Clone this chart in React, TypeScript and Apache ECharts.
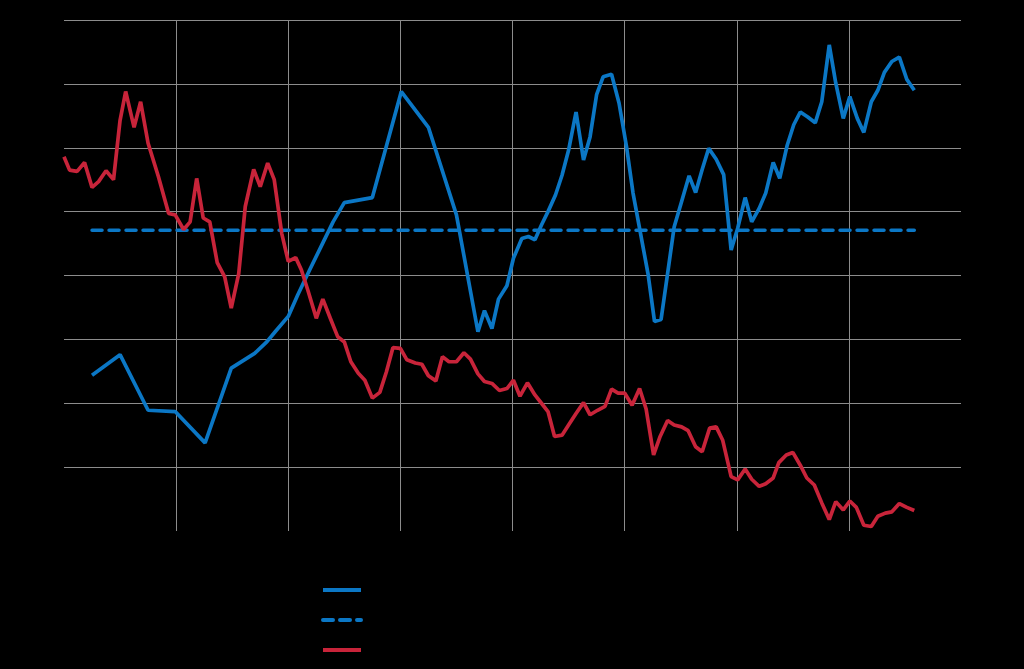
import React, { useEffect, useRef } from "react";
import * as echarts from "echarts";

// x: months from start of axis (axis spans 0..96, gridline every 12); y: value (0..80)
const redX = [0.0, 0.6, 1.4, 2.2, 3.0, 3.7, 4.5, 5.3, 6.0, 6.6, 7.5, 8.2, 9.0, 10.1, 11.2, 11.9, 12.8, 13.5, 14.2, 14.9, 15.6, 16.4, 17.2, 17.9, 18.7, 19.4, 20.3, 21.0, 21.8, 22.5, 23.3, 24.0, 24.8, 25.4, 26.1, 27.0, 27.7, 28.5, 29.3, 30.0, 30.7, 31.5, 32.2, 33.0, 33.8, 34.5, 35.2, 36.0, 36.7, 37.6, 38.3, 39.0, 39.8, 40.5, 41.2, 42.0, 42.8, 43.5, 44.3, 45.0, 45.8, 46.6, 47.4, 48.1, 48.8, 49.6, 50.4, 51.1, 51.8, 52.5, 53.3, 54.0, 54.8, 55.6, 56.3, 57.1, 57.9, 58.6, 59.3, 60.0, 60.8, 61.6, 62.3, 63.1, 63.8, 64.6, 65.3, 66.1, 66.8, 67.6, 68.3, 69.1, 69.8, 70.5, 71.4, 72.1, 72.9, 73.6, 74.4, 75.1, 75.9, 76.5, 77.3, 78.0, 78.8, 79.5, 80.3, 81.1, 81.9, 82.6, 83.4, 84.1, 84.8, 85.6, 86.4, 87.1, 87.9, 88.6, 89.4, 90.2, 91.0];
const redY = [58.6, 56.5, 56.3, 57.7, 53.8, 54.7, 56.4, 55.0, 64.3, 68.8, 63.2, 67.2, 60.7, 55.5, 49.7, 49.5, 47.2, 48.4, 55.2, 49.0, 48.4, 42.0, 39.8, 34.9, 40.3, 50.8, 56.6, 53.9, 57.6, 55.0, 46.6, 42.2, 42.8, 40.9, 37.7, 33.3, 36.3, 33.3, 30.4, 29.6, 26.5, 24.7, 23.6, 20.8, 21.7, 24.9, 28.7, 28.6, 26.8, 26.3, 26.1, 24.3, 23.5, 27.3, 26.5, 26.5, 27.9, 26.9, 24.6, 23.4, 23.1, 22.0, 22.3, 23.6, 21.1, 23.2, 21.3, 20.0, 18.7, 14.8, 15.0, 16.6, 18.4, 20.1, 18.2, 18.9, 19.5, 22.2, 21.6, 21.6, 19.7, 22.3, 19.1, 11.9, 14.8, 17.3, 16.6, 16.3, 15.7, 13.2, 12.4, 16.1, 16.3, 14.2, 8.5, 8.0, 9.7, 8.1, 7.0, 7.4, 8.3, 10.7, 11.9, 12.3, 10.3, 8.3, 7.2, 4.4, 1.8, 4.6, 3.3, 4.7, 3.7, 0.9, 0.7, 2.3, 2.8, 3.0, 4.3, 3.7, 3.2];

const blueX = [3.0, 6.0, 9.0, 11.9, 15.1, 17.9, 20.4, 21.7, 22.6, 24.0, 25.0, 26.3, 27.6, 28.8, 30.0, 33.0, 36.1, 39.0, 42.0, 44.3, 45.0, 45.8, 46.5, 47.4, 48.1, 49.0, 49.7, 50.4, 51.1, 51.8, 52.6, 53.3, 54.0, 54.8, 55.6, 56.3, 57.0, 57.7, 58.6, 59.4, 60.2, 60.9, 61.7, 62.5, 63.2, 63.9, 64.6, 65.3, 66.1, 66.9, 67.6, 68.3, 69.0, 69.8, 70.6, 71.4, 72.1, 72.9, 73.6, 74.4, 75.1, 75.9, 76.6, 77.4, 78.1, 78.8, 79.6, 80.4, 81.1, 81.9, 82.6, 83.4, 84.1, 84.9, 85.6, 86.4, 87.1, 87.8, 88.6, 89.4, 90.2, 91.0];
const blueY = [24.4, 27.6, 18.9, 18.7, 13.8, 25.5, 27.8, 29.6, 31.2, 33.6, 36.9, 40.9, 44.8, 48.4, 51.4, 52.2, 68.8, 63.2, 49.5, 31.2, 34.5, 31.7, 36.3, 38.4, 42.7, 45.8, 46.1, 45.6, 47.9, 50.0, 52.6, 55.7, 59.6, 65.6, 58.1, 61.7, 68.3, 71.1, 71.5, 67.0, 60.2, 52.9, 46.6, 40.3, 32.8, 33.1, 40.3, 47.6, 51.6, 55.6, 53.0, 56.6, 59.9, 58.2, 55.8, 44.0, 47.4, 52.2, 48.4, 50.5, 52.9, 57.7, 55.2, 60.4, 63.6, 65.6, 64.8, 63.9, 67.2, 76.1, 70.1, 64.6, 68.0, 64.6, 62.4, 67.2, 69.0, 71.8, 73.5, 74.2, 70.7, 69.0];

const avgX = [3.0, 91.0];
const avgValue = 47.1;

const seriesNames = ["Index", "Index average", "Rate"];

const BLUE = "#0b77c5";
const RED = "#c8243a";

export default function App() {
  const ref = useRef<HTMLDivElement>(null);
  useEffect(() => {
    if (!ref.current) return;
    const chart = echarts.init(ref.current, null, { renderer: "svg" });
    const pair = (xs: number[], ys: number[]) => xs.map((x, i) => [x, ys[i]]);
    chart.setOption({
      animation: false,
      backgroundColor: "#000000",
      grid: { left: 64, right: 63, top: 20, bottom: 138, containLabel: false },
      xAxis: {
        type: "value",
        min: 0,
        max: 96,
        interval: 12,
        axisLine: { show: false },
        axisTick: { show: false },
        axisLabel: { show: false },
        splitLine: { show: true, showMinLine: false, showMaxLine: false, lineStyle: { color: "#8c8c8c", width: 1 } },
      },
      yAxis: {
        type: "value",
        min: 0,
        max: 80,
        interval: 10,
        axisLine: { show: false },
        axisTick: { show: false },
        axisLabel: { show: false },
        splitLine: { show: true, showMinLine: false, lineStyle: { color: "#8c8c8c", width: 1 } },
      },
      legend: {
        orient: "vertical",
        left: 316,
        top: 576,
        itemWidth: 38,
        itemHeight: 18,
        itemGap: 12,
        itemStyle: { opacity: 0 },
        lineStyle: { width: 4 },
        textStyle: { color: "#000000", fontFamily: "Liberation Sans", fontSize: 14, lineHeight: 18 },
        data: seriesNames,
      },
      series: [
        {
          name: seriesNames[0],
          type: "line",
          data: pair(blueX, blueY),
          showSymbol: false,
          symbol: "none",
          lineStyle: { color: BLUE, width: 3.7 },
          itemStyle: { color: BLUE },
          z: 3,
        },
        {
          name: seriesNames[1],
          type: "line",
          data: avgX.map((x) => [x, avgValue]),
          showSymbol: false,
          symbol: "none",
          lineStyle: { color: BLUE, width: 3.5, type: [10, 7], cap: "round" },
          itemStyle: { color: BLUE },
          z: 2,
        },
        {
          name: seriesNames[2],
          type: "line",
          data: pair(redX, redY),
          showSymbol: false,
          symbol: "none",
          lineStyle: { color: RED, width: 3.7 },
          itemStyle: { color: RED },
          z: 4,
        },
      ],
    });
    return () => chart.dispose();
  }, []);
  return (
    <div
      ref={ref}
      style={{ position: "fixed", left: 0, top: 0, width: 1024, height: 669, background: "#000" }}
    />
  );
}
